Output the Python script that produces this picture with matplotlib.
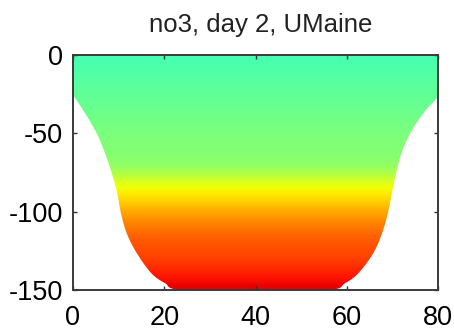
import numpy as np
import matplotlib
matplotlib.use("Agg")
import matplotlib.pyplot as plt
from matplotlib.patches import Polygon

plt.rcParams['axes.unicode_minus'] = False

# Bathymetry (channel cross-section)
bathy_x = [0, 2.6, 5.2, 7.0, 8.5, 9.7, 10.5, 11.8, 14.0, 17.2, 20.2, 23.5,
           40.0,
           56.3, 59.6, 62.5, 65.8, 67.7, 69.0, 69.9, 70.8, 72.0, 73.9, 76.8, 79.7, 80]
bathy_z = [-25.5, -37, -50, -62.6, -75.5, -88.3, -101, -114, -126.6, -139.4, -145.7, -150,
           -152,
           -150, -145.7, -139.4, -126.6, -114, -101, -88.3, -75.5, -62.6, -50, -37, -27.7, -26]

# Nitrate profile vs depth
prof_z = [0, -10, -25, -50, -62, -70, -77, -82, -89, -99, -108, -118, -131, -140, -150]
prof_no3 = [13.0, 13.4, 14.0, 15.0, 15.3, 15.75, 17.25, 18.75, 19.9, 21.75, 23.2, 24.4, 25.3, 26.4, 27.5]
vmin, vmax = 0, 30

xticks = [0, 20, 40, 60, 80]
yticks = [0, -50, -100, -150]


def catmull_rom(xs, ys, n=12):
    p = np.column_stack([xs, ys]).astype(float)
    p = np.vstack([p[0], p, p[-1]])
    out = []
    for i in range(1, len(p) - 2):
        p0, p1, p2, p3 = p[i - 1], p[i], p[i + 1], p[i + 2]
        for t in np.linspace(0, 1, n, endpoint=False):
            t2, t3 = t * t, t * t * t
            pt = 0.5 * ((2 * p1) + (-p0 + p2) * t + (2 * p0 - 5 * p1 + 4 * p2 - p3) * t2
                        + (-p0 + 3 * p1 - 3 * p2 + p3) * t3)
            out.append(pt)
    out.append(p[-2])
    return np.array(out)


fig = plt.figure(figsize=(4.54, 3.33), dpi=100)
ax = fig.add_axes([73/454, 1-290/333, (438-73)/454, (290-55)/333])

zz = np.linspace(0, -150, 600)
field = np.interp(-zz, [-v for v in prof_z], prof_no3)
img = np.tile(field[:, None], (1, 10))
im = ax.imshow(img, extent=[0, 80, -150, 0], origin='upper', aspect='auto',
               cmap='jet', vmin=vmin, vmax=vmax, interpolation='bilinear', zorder=0)
curve = catmull_rom(bathy_x, bathy_z)
poly_pts = np.vstack([[[0, 0]], curve, [[80, 0]]])
clip = Polygon(poly_pts, closed=True, transform=ax.transData, facecolor='none', edgecolor='none')
ax.add_patch(clip)
im.set_clip_path(clip)

ax.set_xlim(0, 80)
ax.set_ylim(-150, 0)
ax.set_xticks(xticks)
ax.set_yticks(yticks)
ax.tick_params(direction='in', length=3, width=1.0, top=True, right=True,
               labelsize=19.5, colors='#333333')
ax.tick_params(axis='x', pad=11)
ax.tick_params(axis='y', pad=7)
for t in ax.get_xticklabels() + ax.get_yticklabels():
    t.set_color('black')
    t.set_fontfamily('Liberation Sans')
for s in ax.spines.values():
    s.set_color('#3a3a3a')
    s.set_linewidth(1.4)
    s.set_zorder(10)

fig.text(261/454, 1-32/333, 'no3, day 2, UMaine', ha='center', va='baseline',
         fontsize=18.5, family='Liberation Sans', color='#222222')

fig.savefig('out.png', dpi=100)
